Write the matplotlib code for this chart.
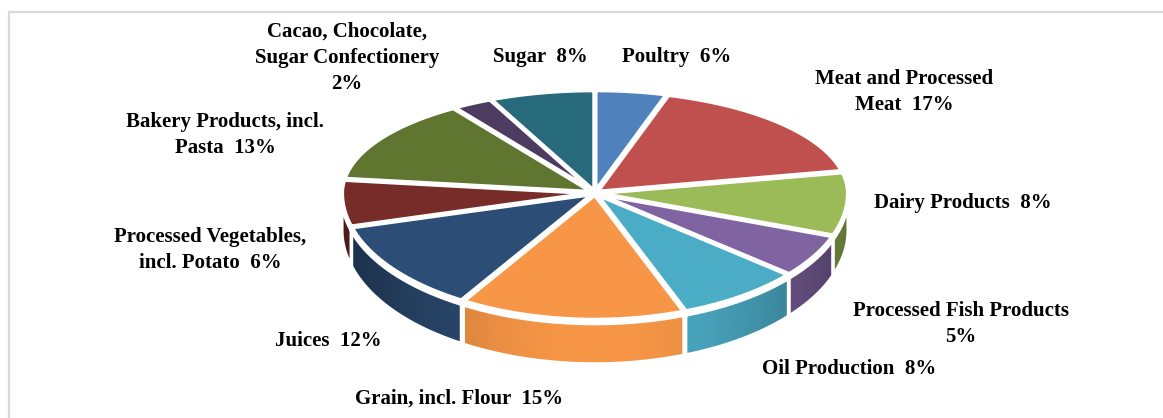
import numpy as np
import matplotlib
matplotlib.use('Agg')
import matplotlib.pyplot as plt
from matplotlib.colors import LinearSegmentedColormap

# slice sizes, the printed percentages are rounded differently
categories = ['Poultry', 'Meat and Processed\nMeat', 'Dairy Products', 'Processed Fish Products\n',
              'Oil Production', 'Grain, incl. Flour', 'Juices', 'Processed Vegetables,\nincl. Potato',
              'Bakery Products, incl.\nPasta', 'Cacao, Chocolate,\nSugar Confectionery\n', 'Sugar']
percents = [6, 17, 8, 5, 8, 15, 12, 6, 13, 2, 8]
shares = [4.6, 17.1, 8.8, 5.6, 8.1, 14.6, 11.9, 6.4, 13.5, 2.6, 6.8]
colors = ['#4f81bd', '#c0504d', '#9bbb59', '#8064a2', '#4bacc6', '#f79646',
          '#2c4d75', '#772c2a', '#5f7530', '#4d3b62', '#276a7c']

# label centres in pixels
label_x = [677, 904, 963, 961, 849, 459, 328, 210, 225, 347, 540]
label_y = [57, 92, 203, 324, 369, 399, 341, 250, 135, 58, 57]

plt.rcParams['font.family'] = ['Liberation Serif']

cx, cy = 595, 193
rx = 250
ry_back, ry_front = 101, 125
explode = 3.0


def project(x, y, off=(0, 0)):
    # back half of the disc is flatter than the front half
    ry = np.where(np.asarray(y) < 0, ry_back, ry_front)
    return cx + rx * x + off[0], cy + ry * y + off[1]


fig = plt.figure(figsize=(11.63, 4.18), dpi=100)
ax = fig.add_axes([0, 0, 1, 1])
ax.set_xlim(0, 1163)
ax.set_ylim(418, 0)
ax.axis('off')

# chart frame, only top and left show
ax.plot([9, 9, 1163], [418, 12, 12], color='#d9d9d9', lw=1.6, solid_joinstyle='miter')

edges = np.cumsum([0] + shares) / sum(shares) * 2 * np.pi
mids = (edges[:-1] + edges[1:]) / 2
order = np.argsort(-np.cos(mids))  # back slices first

for i in order:
    t0, t1 = edges[i], edges[i + 1]
    off = (explode * np.sin(mids[i]), -explode * np.cos(mids[i]) * 0.6)
    t = np.linspace(t0, t1, 80)
    px, py = project(np.sin(t), -np.cos(t), off)

    # outer wall, only the part facing the viewer
    front = -np.cos(t) > -0.02
    if front.sum() > 1:
        fx, fy, ft = px[front], py[front], t[front]
        low = fy + 37 + 7 * -np.cos(ft)
        shade = 1 - 0.38 * np.sin(ft) ** 2
        cmap = LinearSegmentedColormap.from_list('wall', ['black', colors[i]])
        ax.pcolormesh(np.vstack([fx, fx]), np.vstack([fy + 4, low]), np.vstack([shade, shade]),
                      shading='gouraud', cmap=cmap, vmin=0, vmax=1)
        ox = np.r_[fx, fx[::-1], fx[0]]
        oy = np.r_[fy + 4, low[::-1], fy[0] + 4]
        ax.plot(ox, oy, color='white', lw=2.2, solid_joinstyle='miter')

    # top face
    ox0, oy0 = project(0.0, 0.0, off)
    ax.fill(np.r_[ox0, px], np.r_[oy0, py], facecolor=colors[i], edgecolor='white',
            lw=3, joinstyle='miter')

for name, pct, x, y in zip(categories, percents, label_x, label_y):
    if name.endswith('\n'):
        txt = f'{name}{pct}%'
    else:
        txt = f'{name}  {pct}%'
    ax.text(x, y, txt, ha='center', va='center', fontsize=15, fontweight='bold',
            color='black', linespacing=1.4)

fig.savefig('out.png', dpi=100)
